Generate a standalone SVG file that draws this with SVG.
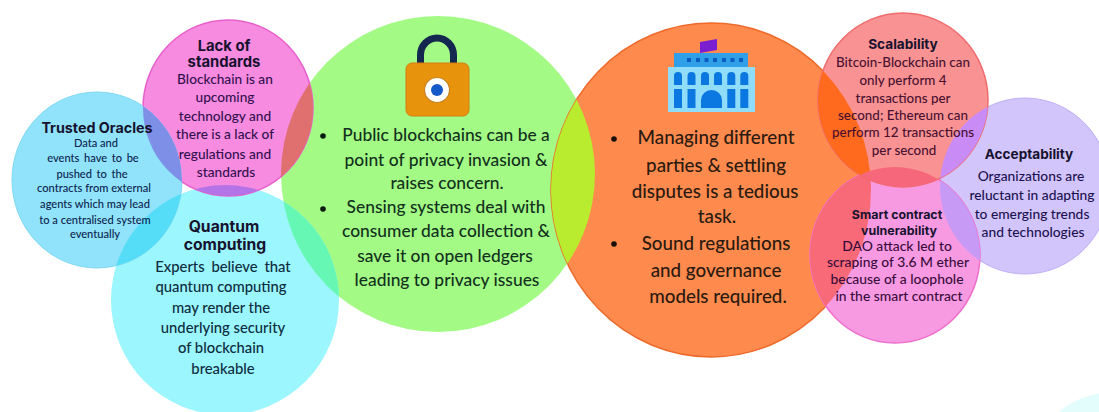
<svg xmlns="http://www.w3.org/2000/svg" width="1099" height="412" viewBox="0 0 1099 412">
<style>
text{font-family:Lato,"Open Sans","Liberation Sans",sans-serif;text-anchor:middle;fill:#16122e;font-weight:500}
.h{font-family:Inter,"Liberation Sans",sans-serif;font-weight:700}
.big{font-size:17.4px;fill:#12301c}
.org{font-size:18.8px;fill:#2a1a10}
.q{font-size:14.8px;fill:#0e2c40}
.m{font-size:13.7px;fill:#33104e}
.s{font-size:11.1px;fill:#0c2450}
.sc{font-size:13.4px;fill:#4a1030}
.ac{font-size:13.8px;fill:#1c1250}
.sm{font-size:13.9px;fill:#3a0c3c}
.lens{stroke:none}
</style>
<defs>
<clipPath id="c-oracle"><ellipse cx="97" cy="180" rx="85" ry="88"/></clipPath>
<clipPath id="c-lack"><ellipse cx="228" cy="108" rx="85" ry="88"/></clipPath>
<clipPath id="c-green"><ellipse cx="438" cy="174" rx="157" ry="158"/></clipPath>
<clipPath id="c-orange"><ellipse cx="711" cy="190" rx="160" ry="167"/></clipPath>
<clipPath id="c-accept"><ellipse cx="1025" cy="186" rx="85" ry="88"/></clipPath>
<clipPath id="c-smart"><ellipse cx="895" cy="255" rx="85" ry="88"/></clipPath>
<clipPath id="c-quantum"><ellipse cx="225" cy="300" rx="114" ry="115"/></clipPath>
<clipPath id="c-scal"><ellipse cx="903" cy="100" rx="85" ry="87"/></clipPath>
<mask id="no-oracle" maskUnits="userSpaceOnUse" x="0" y="0" width="1099" height="412"><rect width="1099" height="412" fill="#fff"/><ellipse cx="97" cy="180" rx="85" ry="88" fill="#000"/></mask>
</defs>
<rect width="1099" height="412" fill="#fff"/>
<ellipse id="corner-shape" cx="1115" cy="462" rx="80" ry="70" fill="#e3fcfc"/>

<g id="node-privacy">
<ellipse cx="438" cy="174" rx="157" ry="158" fill="#a3fb86"/>
<path d="M420.5 63V55a16.5 17 0 0 1 33 0v8" fill="none" stroke="#14274e" stroke-width="7"/>
<rect x="406" y="63" width="63" height="53" rx="6" fill="#e8930c" stroke="#d07f10"/>
<circle cx="437" cy="90" r="12.5" fill="#fff" stroke="#c8801c" stroke-width="1.2"/>
<circle cx="437" cy="90" r="6" fill="#1558c8"/>
<circle cx="323" cy="136" r="2.8" fill="#0a1a10"/>
<circle cx="323" cy="209" r="2.8" fill="#0a1a10"/>
<text class="big" x="446" y="141">Public blockchains can be a</text>
<text class="big" x="446" y="166">point of privacy invasion &amp;</text>
<text class="big" x="447" y="189">raises concern.</text>
<text class="big" x="446" y="213">Sensing systems deal with</text>
<text class="big" x="446" y="237">consumer data collection &amp;</text>
<text class="big" x="445" y="262">save it on open ledgers</text>
<text class="big" x="447" y="286">leading to privacy issues</text>
</g>

<g id="node-governance">
<ellipse cx="711" cy="190" rx="160" ry="167" fill="#ff8a4e" stroke="#ee6a2a" stroke-width="1.5"/>
<ellipse class="lens" cx="438" cy="174" rx="157" ry="158" fill="#b9ec2e" clip-path="url(#c-orange)"/>
<path d="M700 42l17-3v11l-17 3z" fill="#7a1fd0"/>
<rect x="674" y="53" width="74" height="14" fill="#2f9fe8"/>
<g fill="#0b5cc0"><rect x="687" y="58" width="4" height="4"/><rect x="696" y="58" width="4" height="4"/><rect x="704.500" y="58" width="4" height="4"/><rect x="713" y="58" width="4" height="4"/><rect x="722" y="58" width="4" height="4"/><rect x="730.500" y="58" width="4" height="4"/><rect x="739" y="58" width="4" height="4"/></g>
<rect x="668" y="67" width="87" height="45" fill="#8fdcfb"/>
<g fill="#0a78e0">
<path d="M674 85V76a4 4 0 0 1 8 0v9z"/><path d="M687.500 85V76a4 4 0 0 1 8 0v9z"/><path d="M701 85V76a4 4 0 0 1 8 0v9z"/><path d="M714 85V76a4 4 0 0 1 8 0v9z"/><path d="M727.300 85V76a4 4 0 0 1 8 0v9z"/><path d="M740.300 85V76a4 4 0 0 1 8 0v9z"/>
<rect x="674" y="89" width="8" height="19"/><rect x="687.500" y="89" width="8" height="19"/><rect x="727.300" y="89" width="8" height="19"/><rect x="740.300" y="89" width="8" height="19"/>
<path d="M701 108V100a10.500 10 0 0 1 21 0v8z"/>
</g>
<circle cx="614" cy="139" r="2.8" fill="#1a0e08"/>
<circle cx="614" cy="244" r="2.8" fill="#1a0e08"/>
<text class="org" x="716" y="144">Managing different</text>
<text class="org" x="716" y="172">parties &amp; settling</text>
<text class="org" x="715" y="198">disputes is a tedious</text>
<text class="org" x="717" y="223">task.</text>
<text class="org" x="716" y="250">Sound regulations</text>
<text class="org" x="716" y="277">and governance</text>
<text class="org" x="718" y="303">models required.</text>
</g>

<g id="node-quantum">
<ellipse cx="225" cy="300" rx="114" ry="115" fill="#9bf6fd"/>
<ellipse class="lens" cx="438" cy="174" rx="157" ry="158" fill="#66f7b4" clip-path="url(#c-quantum)"/>
<text class="h" x="224" y="232" font-size="15.7">Quantum</text>
<text class="h" x="225" y="250" font-size="15.7">computing</text>
<text class="q" x="223" y="272" word-spacing="3">Experts believe that</text>
<text class="q" x="221" y="292">quantum computing</text>
<text class="q" x="221" y="313">may render the</text>
<text class="q" x="223" y="333">underlying security</text>
<text class="q" x="221" y="353">of blockchain</text>
<text class="q" x="223" y="374">breakable</text>
</g>

<g id="node-oracles">
<ellipse cx="97" cy="180" rx="85" ry="88" fill="#90e3fa" stroke="#7fd8f4"/>
<ellipse class="lens" cx="225" cy="300" rx="114" ry="115" fill="#55dcf7" clip-path="url(#c-oracle)"/>
<ellipse class="lens" cx="228" cy="108" rx="85" ry="88" fill="#7d8fe6" clip-path="url(#c-oracle)"/>
<text class="h" x="97" y="133" font-size="14.3">Trusted Oracles</text>
<text class="s" x="96" y="147">Data and</text>
<text class="s" x="93" y="162" word-spacing="1.800">events have to be</text>
<text class="s" x="92" y="178" word-spacing="1.800">pushed to the</text>
<text class="s" x="94" y="192">contracts from external</text>
<text class="s" x="95" y="208">agents which may lead</text>
<text class="s" x="95" y="224">to a centralised system</text>
<text class="s" x="95" y="238">eventually</text>
</g>

<g id="node-standards">
<ellipse cx="228" cy="108" rx="85" ry="88" fill="#f78be0" stroke="#e860cc" stroke-width="1.5" mask="url(#no-oracle)"/>
<ellipse class="lens" cx="438" cy="174" rx="157" ry="158" fill="#e0706f" clip-path="url(#c-lack)"/>
<ellipse class="lens" cx="225" cy="300" rx="114" ry="115" fill="#b573e8" clip-path="url(#c-lack)" mask="url(#no-oracle)"/>
<text class="h" x="224" y="51" font-size="14.8">Lack of</text>
<text class="h" x="224" y="67" font-size="14.8">standards</text>
<text class="m" x="225" y="84">Blockchain is an</text>
<text class="m" x="225" y="102">upcoming</text>
<text class="m" x="225" y="121">technology and</text>
<text class="m" x="225" y="139">there is a lack of</text>
<text class="m" x="225" y="159">regulations and</text>
<text class="m" x="226" y="177">standards</text>
</g>

<g id="node-acceptability">
<ellipse cx="1025" cy="186" rx="85" ry="88" fill="#d2c5fc" stroke="#bfaef6"/>
<text class="h" x="1029" y="159" font-size="13.600">Acceptability</text>
<text class="ac" x="1031" y="181">Organizations are</text>
<text class="ac" x="1032" y="200">reluctant in adapting</text>
<text class="ac" x="1032" y="219">to emerging trends</text>
<text class="ac" x="1033" y="237">and technologies</text>
</g>

<g id="node-smart">
<ellipse cx="895" cy="255" rx="85" ry="88" fill="#f79ae2" stroke="#ee70cc" stroke-width="1.5"/>
<ellipse class="lens" cx="711" cy="190" rx="160" ry="167" fill="#f96a78" clip-path="url(#c-smart)"/>
<ellipse class="lens" cx="1025" cy="186" rx="85" ry="88" fill="#c79bf5" clip-path="url(#c-smart)"/>
<text class="h" x="897" y="219" font-size="12.400">Smart contract</text>
<text class="h" x="899" y="235" font-size="12.400">vulnerability</text>
<text class="sm" x="897" y="251">DAO  attack led to</text>
<text class="sm" x="898" y="267">scraping of 3.6 M ether</text>
<text class="sm" x="897" y="284">because of a loophole</text>
<text class="sm" x="899" y="301">in the smart contract</text>
</g>

<g id="node-scalability">
<ellipse cx="903" cy="100" rx="85" ry="87" fill="#f99393" stroke="#ee6c6c" stroke-width="1.5"/>
<ellipse class="lens" cx="711" cy="190" rx="160" ry="167" fill="#ff6a1f" clip-path="url(#c-scal)"/>
<ellipse class="lens" cx="1025" cy="186" rx="85" ry="88" fill="#c98bf5" clip-path="url(#c-scal)"/>
<ellipse class="lens" cx="895" cy="255" rx="85" ry="88" fill="#f7677c" clip-path="url(#c-scal)"/>
<text class="h" x="903" y="49" font-size="13.600">Scalability</text>
<text class="sc" x="903" y="67">Bitcoin-Blockchain can</text>
<text class="sc" x="903" y="85">only perform 4</text>
<text class="sc" x="903" y="103">transactions per</text>
<text class="sc" x="903" y="120">second; Ethereum can</text>
<text class="sc" x="903" y="137">perform 12 transactions</text>
<text class="sc" x="904" y="155">per second</text>
</g>

<g id="connectors"/>
</svg>
